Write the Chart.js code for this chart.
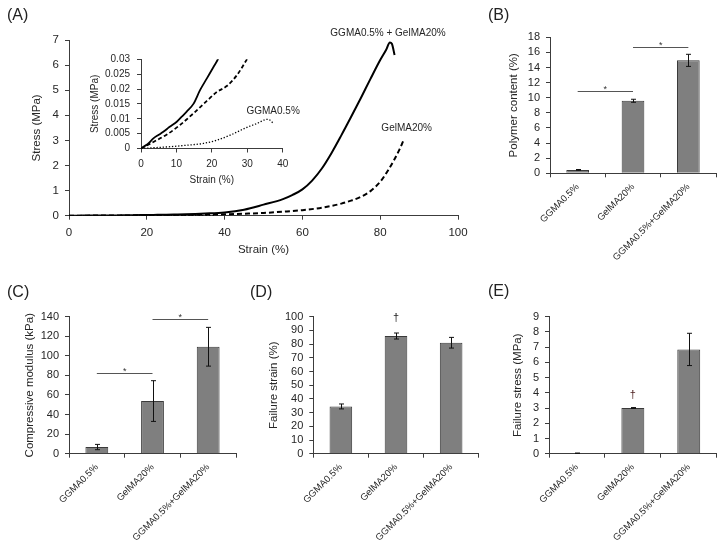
<!DOCTYPE html>
<html><head><meta charset="utf-8">
<script src="https://cdn.jsdelivr.net/npm/chart.js@4.4.0/dist/chart.umd.min.js"></script>
<style>
html,body{margin:0;padding:0;background:#fff;}
#wrap{position:relative;width:724px;height:548px;overflow:hidden;background:#fff;font-family:"Liberation Sans",Arial,sans-serif;}
canvas{position:absolute;left:0;top:0;width:724px;height:548px;}
.lab{position:absolute;font-size:16px;line-height:16px;color:#222;white-space:nowrap;}
</style></head><body>
<div id="wrap">
<canvas id="cA" width="724" height="548"></canvas>
<canvas id="cAi" width="724" height="548"></canvas>
<canvas id="cB" width="724" height="548"></canvas>
<canvas id="cC" width="724" height="548"></canvas>
<canvas id="cD" width="724" height="548"></canvas>
<canvas id="cE" width="724" height="548"></canvas>
<div class="lab" style="left:7px;top:6.5px">(A)</div>
<div class="lab" style="left:488px;top:7px">(B)</div>
<div class="lab" style="left:7px;top:284px">(C)</div>
<div class="lab" style="left:250px;top:284px">(D)</div>
<div class="lab" style="left:488px;top:283px">(E)</div>
</div>
<script>
// ---------- data ----------
const strainComb = [0,1,2,3.5,5,6.3,8,10.1,11.5,12.9,14.8,16.7,18.6,20.5,21.7,23,25,30,35,40,45,50,55,57.5,60,62.5,65,67.5,70,72.5,75,77.5,80,81.5,82.5,83,83.7];
const stressComb = [0,0.0008,0.0016,0.0034,0.0046,0.0056,0.0072,0.009,0.0107,0.0124,0.015,0.0197,0.0236,0.0275,0.03,0.034,0.041,0.055,0.085,0.13,0.24,0.44,0.66,0.83,1.05,1.4,1.88,2.5,3.2,3.93,4.68,5.45,6.2,6.6,6.9,6.85,6.4];
const strainGel = [0,3.5,7.3,11,14.8,18.6,21.4,24.2,27.1,29.9,35,40,45,50,55,60,65,70,72.5,75,77.5,80,82,83.5,85,86.1];
const stressGel = [0,0.0022,0.0047,0.0079,0.0118,0.016,0.019,0.021,0.0247,0.03,0.04,0.055,0.08,0.11,0.16,0.22,0.32,0.48,0.6,0.75,0.98,1.35,1.8,2.2,2.65,3.04];
const strainGG = [0,4,8.2,12.9,17.6,21.4,25.2,29.9,32.7,35.6,36.2,37.5];
const stressGG = [0,0.0003,0.0006,0.0011,0.0017,0.0028,0.0045,0.0071,0.0084,0.0098,0.0097,0.0082];

const categories = ['GGMA0.5%','GelMA20%','GGMA0.5%+GelMA20%'];
const polymerContent = [0.45, 9.6, 14.95];
const polymerErr = [0.05, 0.2, 0.8];
const modulus = [6.8, 53.8, 109.3];
const modulusErr = [2.7, 20.8, 19.8];
const failureStrain = [34.5, 85.9, 81.0];
const failureStrainErr = [1.8, 2.2, 3.9];
const failureStress = [0.03, 3.0, 6.85];
const failureStressErr = [0.01, 0.03, 1.06];

// ---------- helpers ----------
const W = 724, H = 548;
const FAMILY = '"Liberation Sans", Arial, sans-serif';
Chart.defaults.font.family = FAMILY;
const AX = '#3c3c3c', TX = '#262626';

function pts(xs, ys){ return xs.map((x,i)=>({x:x, y:ys[i]})); }
function lay(l,t,r,b,wy,hx){ return {autoPadding:false, padding:{left:l-wy, top:t, right:W-r, bottom:H-b-hx}}; }
function gridOpts(){ return {display:true, drawOnChartArea:false, drawTicks:true, tickLength:4, color:AX, tickColor:AX, lineWidth:1}; }
function borderOpts(){ return {display:true, color:AX, width:1}; }

function textPlugin(items){
  return {id:'txt', afterDatasetsDraw(chart){
    const ctx = chart.ctx;
    ctx.save();
    items.forEach(it=>{
      const xs = chart.scales.x, ys = chart.scales.y;
      const px = xs.getPixelForValue(it.x), py = ys.getPixelForValue(it.y);
      ctx.font = (it.size||10) + 'px ' + FAMILY;
      ctx.fillStyle = it.color || TX;
      ctx.textAlign = 'center';
      ctx.textBaseline = it.base || 'middle';
      ctx.fillText(it.text, px, py);
    });
    ctx.restore();
  }};
}

function barPlugin(errors, sigs){
  return {id:'bars', afterDatasetsDraw(chart){
    const ctx = chart.ctx, ys = chart.scales.y, xs = chart.scales.x;
    const vals = chart.data.datasets[0].data;
    ctx.save();
    ctx.strokeStyle = '#111'; ctx.lineWidth = 1;
    chart.getDatasetMeta(0).data.forEach((bar,i)=>{
      const e = errors[i]; if(!e) return;
      const x = Math.round(bar.x)+0.5;
      const y1 = ys.getPixelForValue(vals[i]+e), y2 = ys.getPixelForValue(vals[i]-e);
      ctx.beginPath();
      ctx.moveTo(x,y1); ctx.lineTo(x,y2);
      ctx.moveTo(x-2.5,y1); ctx.lineTo(x+2.5,y1);
      ctx.moveTo(x-2.5,y2); ctx.lineTo(x+2.5,y2);
      ctx.stroke();
    });
    (sigs||[]).forEach(s=>{
      const x1 = xs.getPixelForValue(s.from), x2 = xs.getPixelForValue(s.to);
      const y = Math.round(ys.getPixelForValue(s.y))+0.5;
      ctx.strokeStyle = '#555';
      ctx.beginPath(); ctx.moveTo(x1,y); ctx.lineTo(x2,y); ctx.stroke();
      ctx.fillStyle = '#333';
      ctx.font = '9px ' + FAMILY;
      ctx.textAlign = 'center'; ctx.textBaseline = 'alphabetic';
      ctx.fillText('*', (x1+x2)/2, y+0.5);
    });
    ctx.restore();
  }};
}

function barChart(id, values, errors, yMax, yStep, title, area, wy, sigs, marks){
  const plugins = [barPlugin(errors, sigs)];
  if (marks) plugins.push(textPlugin(marks));
  const HX = 110;
  return new Chart(document.getElementById(id), {
    type:'bar',
    data:{labels:categories, datasets:[{data:values, backgroundColor:'#7f7f7f', borderColor:'#3a3a3a', borderWidth:1, barPercentage:0.41, categoryPercentage:1}]},
    options:{
      responsive:false, animation:false, devicePixelRatio:1,
      layout: lay(area[0],area[1],area[2],area[3],wy,HX),
      plugins:{legend:{display:false}, tooltip:{enabled:false}},
      scales:{
        x:{type:'category', offset:true,
           grid:Object.assign(gridOpts(),{offset:true}), border:borderOpts(),
           ticks:{minRotation:45, maxRotation:45, autoSkip:false, padding:4, color:TX, font:{size:9.5}},
           afterFit:s=>{s.height=HX;}},
        y:{type:'linear', min:0, max:yMax,
           grid:gridOpts(), border:borderOpts(),
           ticks:{stepSize:yStep, autoSkip:false, padding:6, color:TX, font:{size:11}},
           title:{display:true, text:title, padding:0, color:TX, font:{size:11.5}},
           afterFit:s=>{s.width=wy;}}
      }
    },
    plugins:plugins
  });
}

// ---------- (A) main ----------
new Chart(document.getElementById('cA'), {
  type:'line',
  data:{datasets:[
    {data:pts(strainComb,stressComb), borderColor:'#000', borderWidth:2, pointRadius:0, cubicInterpolationMode:'monotone', fill:false},
    {data:pts(strainGel,stressGel), borderColor:'#000', borderWidth:2, borderDash:[5,3], pointRadius:0, cubicInterpolationMode:'monotone', fill:false},
    {data:pts(strainGG,stressGG), borderColor:'#000', borderWidth:1.5, borderDash:[1.5,2], pointRadius:0, cubicInterpolationMode:'monotone', fill:false}
  ]},
  options:{
    responsive:false, animation:false, devicePixelRatio:1,
    layout: lay(69,40,458,215.7,39,41.2),
    plugins:{legend:{display:false}, tooltip:{enabled:false}},
    scales:{
      x:{type:'linear', min:0, max:100, grid:gridOpts(), border:borderOpts(),
         ticks:{stepSize:20, autoSkip:false, maxRotation:0, padding:6, color:TX, font:{size:11.5}},
         title:{display:true, text:'Strain (%)', padding:0, color:TX, font:{size:11.5}},
         afterFit:s=>{s.height=41.2;}},
      y:{type:'linear', min:0, max:7, grid:gridOpts(), border:borderOpts(),
         ticks:{stepSize:1, autoSkip:false, padding:6, color:TX, font:{size:11.5}},
         title:{display:true, text:'Stress (MPa)', padding:0, color:TX, font:{size:11.5}},
         afterFit:s=>{s.width=39;}}
    }
  },
  plugins:[textPlugin([
    {text:'GGMA0.5% + GelMA20%', x:82.0, y:7.28, size:10},
    {text:'GelMA20%', x:86.8, y:3.49, size:10}
  ])]
});

// ---------- (A) inset ----------
new Chart(document.getElementById('cAi'), {
  type:'line',
  data:{datasets:[
    {data:pts(strainComb,stressComb), borderColor:'#000', borderWidth:1.8, pointRadius:0, cubicInterpolationMode:'monotone', fill:false, clip:0},
    {data:pts(strainGel,stressGel), borderColor:'#000', borderWidth:1.8, borderDash:[4,2.5], pointRadius:0, cubicInterpolationMode:'monotone', fill:false, clip:0},
    {data:pts(strainGG,stressGG), borderColor:'#000', borderWidth:1.3, borderDash:[1.3,1.8], pointRadius:0, cubicInterpolationMode:'monotone', fill:false, clip:0}
  ]},
  options:{
    responsive:false, animation:false, devicePixelRatio:1,
    layout: lay(141,59.3,282.7,148.5,52,37.5),
    plugins:{legend:{display:false}, tooltip:{enabled:false}},
    scales:{
      x:{type:'linear', min:0, max:40, grid:gridOpts(), border:borderOpts(),
         ticks:{stepSize:10, autoSkip:false, maxRotation:0, padding:6, color:TX, font:{size:10}},
         title:{display:true, text:'Strain (%)', padding:0, color:TX, font:{size:10}},
         afterFit:s=>{s.height=37.5;}},
      y:{type:'linear', min:0, max:0.03, grid:gridOpts(), border:borderOpts(),
         ticks:{stepSize:0.005, autoSkip:false, padding:7, color:TX, font:{size:10}, callback:v=>String(+Number(v).toFixed(3))},
         title:{display:true, text:'Stress (MPa)', padding:0, color:TX, font:{size:10}},
         afterFit:s=>{s.width=52;}}
    }
  },
  plugins:[textPlugin([{text:'GGMA0.5%', x:37.3, y:0.0126, size:10}])]
});

// ---------- (B)-(E) ----------
barChart('cB', polymerContent, polymerErr, 18, 2, 'Polymer content (%)', [550,37.3,716,173.3], 43.4,
  [{from:0,to:1,y:10.94},{from:1,to:2,y:16.7}]);
barChart('cC', modulus, modulusErr, 140, 20, 'Compressive modulus (kPa)', [69,316.7,236,453.7], 45.9,
  [{from:0,to:1,y:82.8},{from:1,to:2,y:137.6}]);
barChart('cD', failureStrain, failureStrainErr, 100, 10, 'Failure strain (%)', [313.3,316.7,478.7,453.7], 46.7,
  [], [{text:'\u2020', x:1, y:99.4, size:11, color:'#222'}]);
barChart('cE', failureStress, failureStressErr, 9, 1, 'Failure stress (MPa)', [549,316.7,716.7,453.7], 37.9,
  [], [{text:'\u2020', x:1, y:3.88, size:11, color:'#4a1c1c'}]);
</script>
</body></html>
